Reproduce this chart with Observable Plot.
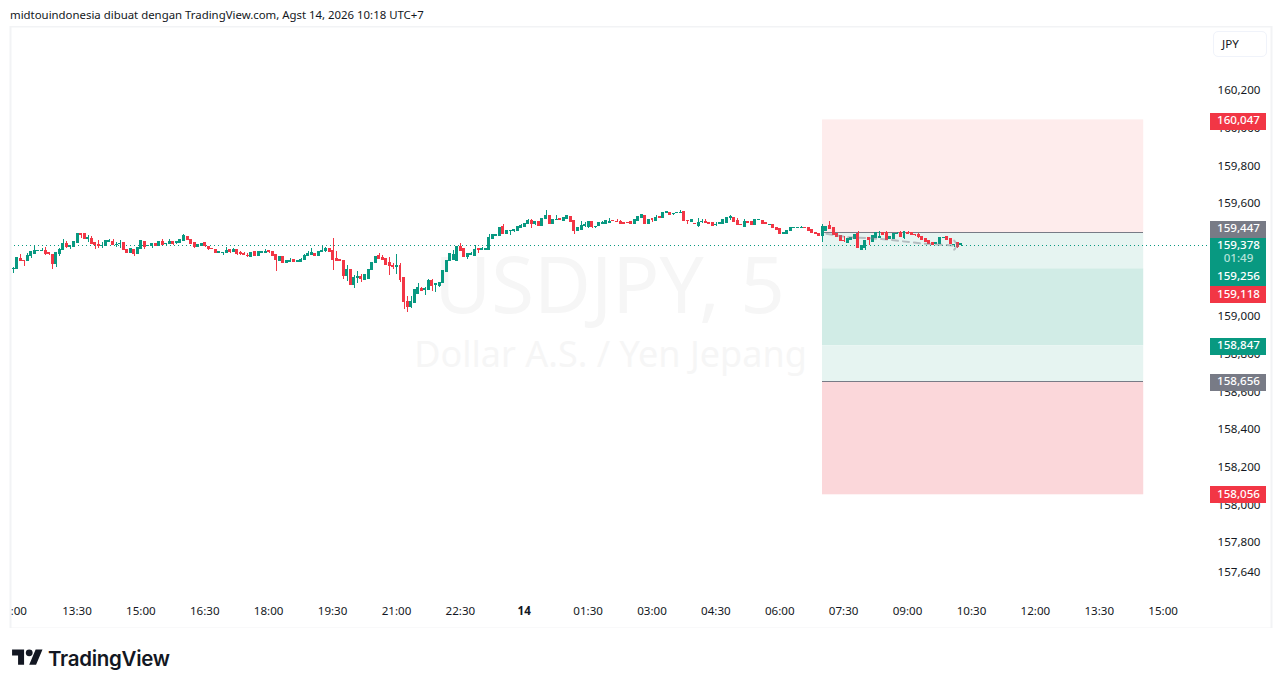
<!DOCTYPE html>
<html><head><meta charset="utf-8">
<script src="https://cdn.jsdelivr.net/npm/d3@7"></script>
<script src="https://cdn.jsdelivr.net/npm/@observablehq/plot@0.6"></script>
<style>
html,body{margin:0;padding:0;background:#fff;font-family:"Noto Sans",sans-serif;color:#131722}
#wrap{position:relative;width:1281px;height:688px;overflow:hidden}
#head{position:absolute;left:10px;top:6px;font-size:11.4px;line-height:18px;white-space:nowrap}
#chart{position:absolute;left:0;top:26px}
#chart svg{display:block}
#unit{position:absolute;left:1213px;top:31px;width:52px;height:24px;border:1px solid #f0f3fa;border-radius:5px;font-size:11.6px;line-height:24px;text-indent:8px}
#logo{position:absolute;left:12px;top:646px;display:flex;align-items:center;height:24px}
#logo span{font-family:Inter,sans-serif;font-weight:600;font-size:20.5px;letter-spacing:-.3px;margin-left:5px;color:#131722}
</style></head><body>
<div id="wrap">
<div id="head">midtouindonesia dibuat dengan TradingView.com, Agst 14, 2026 10:18 UTC+7</div>
<div id="chart"></div>
<div id="unit">JPY</div>
<div id="logo"><svg width="31" height="24" viewBox="0 0 36 28"><path fill="#131722" d="M14 22H7V11H0V4h14v18zM28 22h-8l7.5-18h8L28 22z"/><circle fill="#131722" cx="20" cy="8" r="4"/></svg><span>TradingView</span></div>
</div>
<script>
// Candle values: thousandths of a yen above 159.000, one per 5-minute bar; first bar is index -19 from 13:30.
const firstBar = -19;
const opens = [331,246,246,301,291,287,315,328,340,340,
345,331,322,271,324,345,383,363,363,
384,434,434,407,409,388,376,367,369,392,
393,374,377,384,351,331,351,324,354,390,
369,367,379,369,392,379,377,390,384,384,
395,420,404,386,363,367,384,367,354,351,
333,331,331,347,335,347,333,326,319,310,
337,315,333,331,344,337,321,291,313,276,
286,295,285,283,292,318,322,327,315,336,
341,352,341,302,297,292,207,244,164,200,
203,189,194,239,277,318,304,300,277,265,
256,265,198,74,44,65,115,143,136,136,
182,164,157,173,233,288,292,288,366,354,
309,320,318,354,348,345,345,407,424,424,
469,433,446,451,451,463,469,486,504,488,
495,474,510,531,483,506,511,501,510,525,
502,448,456,474,469,495,469,474,487,483,
490,502,499,499,492,491,495,485,504,517,
531,488,513,499,522,517,545,545,538,543,
543,549,502,495,487,474,495,495,492,492,
479,488,488,492,518,517,504,481,472,495,
495,478,506,504,490,479,483,467,458,435,
435,448,462,462,464,465,467,457,439,434,
421,451,478,464,434,425,398,386,398,404,
434,350,359,412,389,411,411,439,439,404,
404,432,439,412,439,439,430,428,420,407,
398,384,381,377,410,416,407,372,384,372];
const highs = [331,257,307,324,291,328,342,370,344,358,
361,333,322,331,354,404,393,369,395,
438,434,436,425,420,388,399,390,395,406,
404,390,399,388,351,354,351,358,399,393,
372,383,379,393,402,383,406,393,390,402,
430,420,404,386,374,383,388,367,354,351,
337,335,361,347,358,347,340,335,328,335,
337,337,338,351,344,340,321,315,313,292,
302,295,292,303,322,339,354,327,339,371,
362,352,408,339,297,292,265,244,212,233,
217,217,242,281,309,332,318,304,306,274,
323,277,203,100,100,138,168,150,150,189,
194,171,175,235,292,327,348,366,380,354,
325,334,371,354,359,352,430,430,428,465,
483,451,451,458,473,483,490,510,510,497,
495,513,557,531,510,531,513,517,532,525,
502,464,499,495,499,499,472,490,499,501,
513,504,510,506,492,491,501,510,525,537,
531,510,513,531,522,545,549,545,541,547,
557,552,502,510,487,513,510,510,492,492,
495,492,506,518,531,522,518,481,510,495,
495,510,510,504,490,485,485,467,460,439,
451,467,465,465,471,465,467,457,439,434,
483,473,499,464,434,425,420,407,411,430,
446,372,398,416,425,437,448,443,446,416,
434,443,446,448,446,439,430,435,420,407,
398,384,384,412,415,420,407,377,390,378];
const lows = [239,225,246,287,262,287,305,324,340,340,
319,321,245,257,315,345,354,351,363,
384,411,404,390,381,351,354,358,369,392,
372,363,356,345,330,331,315,324,354,349,
367,358,370,369,374,369,377,372,377,384,
395,399,377,354,363,367,361,345,351,331,
333,321,331,331,335,319,319,322,308,310,
315,315,333,331,330,317,236,291,277,276,
281,283,285,283,292,318,318,311,315,336,
336,336,239,288,288,189,181,164,143,168,
177,185,194,239,277,300,295,270,212,242,
217,177,30,15,40,65,115,126,106,136,
129,123,150,173,233,288,292,285,341,309,
295,320,318,327,348,345,345,407,424,424,
433,433,424,439,448,463,465,486,464,478,
474,474,510,483,483,506,508,501,510,495,
430,448,456,467,464,464,460,474,487,483,
490,499,495,488,481,490,481,485,504,517,
488,483,495,499,517,517,545,536,531,543,
543,501,483,495,483,469,487,490,488,472,
472,488,488,492,504,495,478,478,472,490,
478,478,506,483,485,479,464,455,430,435,
435,448,462,462,464,464,448,437,435,420,
389,451,457,425,416,393,389,382,398,404,
354,343,345,372,389,411,411,425,398,404,
404,432,416,404,432,428,420,410,398,389,
379,372,381,377,410,398,377,364,355,368];
const closes = [239,248,307,287,289,319,337,345,344,345,
324,326,271,331,351,383,363,369,392,
432,429,404,411,381,372,369,370,395,395,
372,377,381,345,330,354,324,358,395,365,
372,383,370,390,374,383,393,379,390,400,
422,399,377,361,374,383,369,353,351,331,
337,335,345,337,349,326,328,322,315,335,
315,337,338,340,337,317,294,310,277,288,
292,283,292,297,318,329,331,315,339,345,
354,336,297,288,288,208,244,164,200,203,
194,217,242,281,309,300,295,270,261,256,
265,189,74,47,70,138,146,132,139,182,
155,168,175,235,292,327,323,366,341,309,
325,327,350,350,354,352,412,430,428,465,
433,451,451,456,469,477,486,504,483,495,
474,513,531,483,508,510,508,517,527,495,
448,464,478,483,495,469,472,490,490,501,
499,499,495,488,487,490,487,510,525,534,
488,510,506,518,517,545,549,536,541,547,
547,501,499,510,483,492,499,490,488,474,
483,492,506,518,522,495,478,478,495,490,
478,510,510,483,485,483,464,455,430,439,
451,467,465,465,467,464,448,437,435,420,
469,473,457,425,416,393,395,407,411,430,
358,372,398,398,425,437,416,425,398,416,
434,434,416,443,432,428,425,416,398,389,
379,372,384,412,412,398,377,377,363,378];

const ghostBars   = [211,213,217,223,226,229,232,235,238,241,244,247,248];
const ghostValues = [434,428,416,411,407,402,395,389,382,379,375,372,372];
const arrowBars   = [247,248,247];
const arrowValues = [398,372,350];

const priceTicks = [160.2,160.0,159.8,159.6,159.4,159.2,159.0,158.8,158.6,158.4,158.2,158.0,157.8,157.64];
const edgeTickBar = -18;
const timeTickBars = [0,18,36,54,72,90,108,144,162,180,198,216,234,252,270,288,306];
const midnightBar = 126;
const currentPrice = 159.378;

// Long/short position tool
const zoneFromBar = 209.9, zoneToBar = 300.4;
const zoneTops    = [160.047,159.447,159.256,158.847,158.656];
const zoneBottoms = [159.447,159.256,158.847,158.656,158.056];
const zoneFills   = ["#feecec","#e6f4f1","#d1ece6","#e6f4f1","#fbd7da"];
const zoneLines   = [159.447,158.656];

// Price-scale badges: the label's text and the price level it is stacked at
const badgeText   = ["160,047","159,447","159,118","158,847","158,656","158,056"];
const badgeAt     = [160.041,159.467,159.119,158.846,158.655,158.057];
const badgeFill   = ["#f23645","#787b86","#f23645","#089981","#787b86","#f23645"];
const liveAt = 159.295;
const liveText = ["159,378","01:49","159,256"];
const liveTextAt = [159.380,159.311,159.215];
const liveTextFill = ["#fff","#b5e3da","#fff"];
const badgeFromBar = 319.2, badgeToBar = 335, badgeMidBar = 327.1;

const T0 = Date.UTC(2026,7,13,13,30), STEP = 300000;
const barTime = i => new Date(T0 + i*STEP);
const toPrice = v => 159 + (v + 8)/1000;

const candles = opens.map((o,k)=>({
  bar:firstBar+k, t:barTime(firstBar+k),
  o:toPrice(o), h:toPrice(highs[k]), l:toPrice(lows[k]), c:toPrice(closes[k]),
  up:closes[k]>=o
}));
const GREEN="#089981", RED="#f23645";
const col = d=>d.up?GREEN:RED;
const hhmm = d=>d3.utcFormat("%H:%M")(d);
const ui = '"Noto Sans",sans-serif';
const tickSize = 11.6;

const ghost = ghostBars.map((b,k)=>({t:barTime(b),p:toPrice(ghostValues[k])}));
const arrow = arrowBars.map((b,k)=>({t:barTime(b),p:toPrice(arrowValues[k])}));
const zones = zoneTops.map((t,k)=>({y2:t,y1:zoneBottoms[k],fill:zoneFills[k]}));
const badges = badgeText.map((t,k)=>({t,at:badgeAt[k],fill:badgeFill[k]}));
const live = liveText.map((t,k)=>({t,at:liveTextAt[k],fill:liveTextFill[k]}));
const priceFmt = d=>d.toFixed(3).replace(".",",");

const plot = Plot.plot({
  width:1281,height:602,
  marginLeft:10,marginRight:10,marginTop:0,marginBottom:0,
  style:{background:"#fff",fontFamily:ui,fontSize:"12px",color:"#131722"},
  x:{type:"utc",domain:[barTime(-18.88),barTime(336.4)],axis:null},
  y:{domain:[157.346,160.543],axis:null},
  marks:[
    Plot.text(["USDJPY, 5"],{frameAnchor:"top-left",lineAnchor:"middle",dx:599,dy:262,text:d=>d,fontSize:78,fill:"#f6f6f6",textAnchor:"middle",fontFamily:ui}),
    Plot.text(["Dollar A.S. / Yen Jepang"],{frameAnchor:"top-left",lineAnchor:"middle",dx:600,dy:329,text:d=>d,fontSize:36,fill:"#f6f6f6",textAnchor:"middle",fontFamily:ui}),
    Plot.rect(zones,{x1:()=>barTime(zoneFromBar),x2:()=>barTime(zoneToBar),y1:"y1",y2:"y2",fill:"fill"}),
    Plot.ruleY(zoneLines,{x1:()=>barTime(zoneFromBar),x2:()=>barTime(zoneToBar),stroke:"#787b86",strokeWidth:1,shapeRendering:"crispEdges"}),
    Plot.ruleY([currentPrice],{x1:()=>barTime(firstBar),x2:()=>barTime(badgeFromBar),stroke:GREEN,strokeWidth:1,strokeDasharray:"1 3",shapeRendering:"crispEdges"}),
    Plot.ruleX(candles,{x:"t",y1:"l",y2:"h",stroke:col,strokeWidth:1,clip:"frame",shapeRendering:"crispEdges"}),
    Plot.rect(candles,{x1:d=>barTime(d.bar-0.42),x2:d=>barTime(d.bar+0.42),y1:"o",y2:"c",fill:col,insetTop:-0.4,insetBottom:-0.4,clip:"frame",shapeRendering:"crispEdges"}),
    Plot.line(ghost,{x:"t",y:"p",stroke:"#787b86",strokeOpacity:0.45,strokeWidth:2,strokeDasharray:"6 5"}),
    Plot.line(arrow,{x:"t",y:"p",stroke:"#787b86",strokeOpacity:0.45,strokeWidth:2,strokeDasharray:"3 2"}),
    Plot.axisY(priceTicks,{anchor:"right",tickSize:0,tickPadding:-11,textAnchor:"end",tickFormat:priceFmt,label:null,fill:"#131722",fontSize:tickSize,dy:-0.5}),
    Plot.axisX(timeTickBars.map(barTime),{anchor:"bottom",tickSize:0,tickPadding:-22,tickFormat:hhmm,label:null,fill:"#131722",fontSize:tickSize,dx:-0.5}),
    Plot.axisX([barTime(edgeTickBar)],{anchor:"bottom",tickSize:0,tickPadding:-22,tickFormat:hhmm,label:null,fill:"#131722",fontSize:tickSize,clip:"frame",dx:-1.5}),
    Plot.axisX([barTime(midnightBar)],{anchor:"bottom",tickSize:0,tickPadding:-22,tickFormat:()=>"14",label:null,fill:"#131722",fontSize:tickSize,fontWeight:"bold",dx:-0.5}),
    Plot.frame({stroke:"#f2f3f5",strokeWidth:2}),
    Plot.ruleY(badges,{y:"at",x1:()=>barTime(badgeFromBar),x2:()=>barTime(badgeToBar),stroke:"fill",strokeWidth:17,shapeRendering:"crispEdges"}),
    Plot.ruleY([liveAt],{x1:()=>barTime(badgeFromBar),x2:()=>barTime(badgeToBar),stroke:GREEN,strokeWidth:48,shapeRendering:"crispEdges"}),
    Plot.text(badges,{y:"at",x:()=>barTime(badgeMidBar),text:"t",fill:"#fff",fontSize:tickSize,fontWeight:500,dy:-0.5}),
    Plot.text(live,{y:"at",x:()=>barTime(badgeMidBar),text:"t",fill:"fill",fontSize:tickSize,fontWeight:500})
  ]
});
document.getElementById("chart").appendChild(plot);
</script>
</body></html>
